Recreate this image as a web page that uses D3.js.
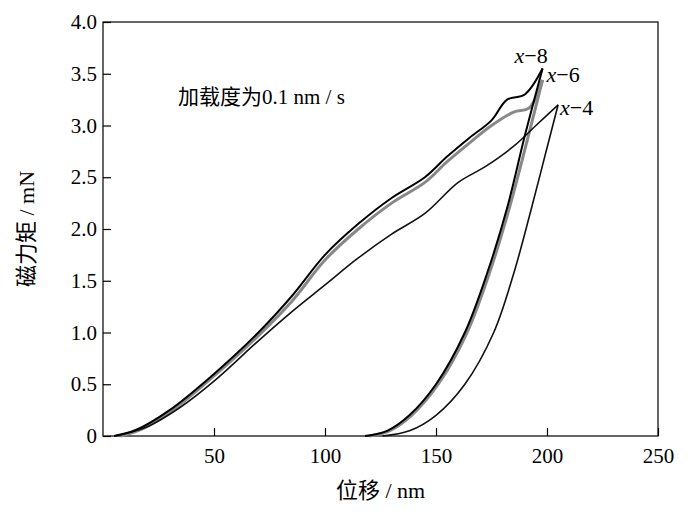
<!DOCTYPE html>
<html><head><meta charset="utf-8">
<script src="https://cdn.jsdelivr.net/npm/d3@7"></script>
<style>body{margin:0;background:#fff}</style>
</head><body>
<script>
// loading / unloading curves, [nm, mN]
var x8Load = [[5,0],[15,0.06],[30,0.25],[50,0.6],[70,1.0],[85,1.35],[100,1.75],[115,2.05],[130,2.3],[145,2.5],[155,2.7],[165,2.88],[175,3.05],[182,3.25],[190,3.3],[198,3.55]];
var x8Unload = [[198,3.55],[190,2.9],[182,2.2],[173,1.57],[163,1.0],[150,0.5],[138,0.2],[128,0.05],[118,0]];
var x6Load = [[8,0],[18,0.07],[32,0.26],[50,0.58],[70,0.97],[85,1.3],[100,1.7],[115,2.0],[130,2.25],[145,2.45],[155,2.65],[165,2.83],[175,3.0],[185,3.13],[192,3.17],[198,3.44]];
var x6Unload = [[198,3.44],[191,2.85],[183,2.2],[174,1.57],[164,1.0],[151,0.5],[139,0.2],[129,0.05],[120,0]];
var x4Load = [[5,0],[20,0.09],[35,0.28],[50,0.53],[70,0.92],[85,1.2],[100,1.46],[115,1.72],[130,1.95],[145,2.15],[160,2.45],[172,2.6],[185,2.8],[195,3.0],[205,3.2]];
var x4Unload = [[205,3.2],[199,2.7],[193,2.2],[185,1.57],[176,1.0],[163,0.5],[150,0.2],[138,0.05],[126,0]];
var xTicks = [50,100,150,200,250];
var yTicks = [0,0.5,1.0,1.5,2.0,2.5,3.0,3.5,4.0];
var labels = [{t:"x",n:"−8",p:[198,3.55],dx:-28,dy:-6},{t:"x",n:"−6",p:[198,3.44],dx:4,dy:2},{t:"x",n:"−4",p:[205,3.2],dx:2,dy:10}];

var svg = d3.select("body").append("svg").attr("width",700).attr("height",514);
var m = {l:103,r:658,t:22,b:436};
var x = d3.scaleLinear().domain([0,250]).range([m.l,m.r]);
var y = d3.scaleLinear().domain([0,4]).range([m.b,m.t]);
var font = "'Liberation Serif','Noto Sans CJK SC',serif";

svg.append("rect").attr("x",m.l).attr("y",m.t).attr("width",m.r-m.l).attr("height",m.b-m.t)
  .attr("fill","none").attr("stroke","#000").attr("stroke-width",1.2);

var xa = svg.append("g").attr("transform","translate(0,"+m.b+")")
  .call(d3.axisBottom(x).tickValues(xTicks).tickSize(-8).tickPadding(12));
var ya = svg.append("g").attr("transform","translate("+m.l+",0)")
  .call(d3.axisLeft(y).tickValues(yTicks).tickSize(-8).tickPadding(6).tickFormat(function(d){return d==0?"0":d3.format(".1f")(d)}));
[xa,ya].forEach(function(a){
  a.select(".domain").remove();
  a.selectAll("text").attr("font-family",font).attr("font-size",21).attr("fill","#000");
  a.selectAll("line").attr("stroke","#000").attr("stroke-width",1.2);
});

var line = d3.line().x(function(d){return x(d[0])}).y(function(d){return y(d[1])}).curve(d3.curveCatmullRom);
[[x6Load,"#888",3],[x6Unload,"#888",3],[x4Load,"#111",1.6],[x4Unload,"#111",1.6],[x8Load,"#000",2],[x8Unload,"#000",2]].forEach(function(s){
  svg.append("path").attr("d",line(s[0])).attr("fill","none").attr("stroke",s[1]).attr("stroke-width",s[2]);
});

labels.forEach(function(l){
  var t = svg.append("text").attr("x",x(l.p[0])+l.dx).attr("y",y(l.p[1])+l.dy)
    .attr("font-family",font).attr("font-size",22);
  t.append("tspan").attr("font-style","italic").text(l.t);
  t.append("tspan").text(l.n);
});

svg.append("text").attr("x",178).attr("y",104).attr("font-family",font).attr("font-size",21).text("加载度为0.1 nm / s");
svg.append("text").attr("x",(m.l+m.r)/2).attr("y",498).attr("text-anchor","middle")
  .attr("font-family",font).attr("font-size",22).text("位移 / nm");
svg.append("text").attr("transform","translate(34,"+((m.t+m.b)/2)+") rotate(-90)").attr("text-anchor","middle")
  .attr("font-family",font).attr("font-size",22).text("磁力矩 / mN");
</script>
</body></html>
